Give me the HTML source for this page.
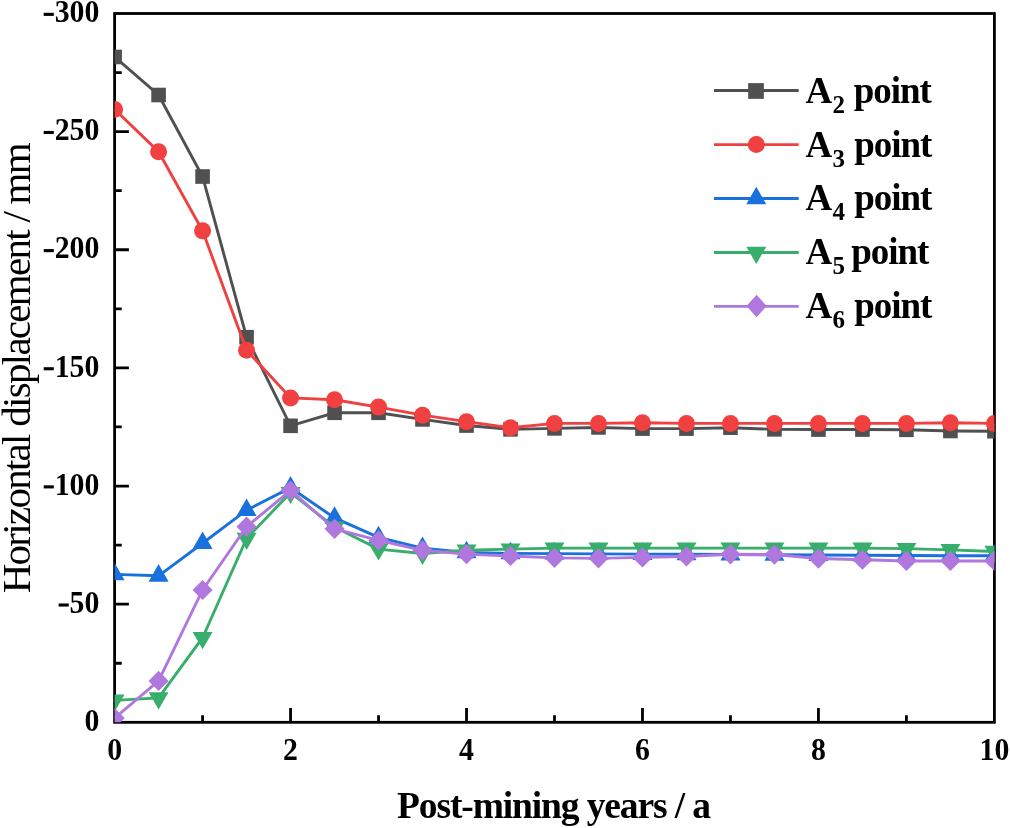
<!DOCTYPE html><html><head><meta charset="utf-8"><style>html,body{margin:0;padding:0;background:#fff;}body{width:1010px;height:828px;overflow:hidden;position:relative;}svg{position:absolute;left:0;top:0;will-change:transform;}text{font-family:"Liberation Serif",serif;}</style></head><body>
<svg width="1010" height="828" viewBox="0 0 1010 828">
<defs><clipPath id="pc"><rect x="114.60" y="13.50" width="879.80" height="708.80"/></clipPath></defs>
<path d="M202.58,722.30V715.20 M290.56,722.30V708.00 M378.54,722.30V715.20 M466.52,722.30V708.00 M554.50,722.30V715.20 M642.48,722.30V708.00 M730.46,722.30V715.20 M818.44,722.30V708.00 M906.42,722.30V715.20 M114.60,663.23H121.70 M114.60,604.17H128.90 M114.60,545.10H121.70 M114.60,486.03H128.90 M114.60,426.97H121.70 M114.60,367.90H128.90 M114.60,308.83H121.70 M114.60,249.77H128.90 M114.60,190.70H121.70 M114.60,131.63H128.90 M114.60,72.57H121.70" stroke="#000" stroke-width="2.8" fill="none"/>
<rect x="114.60" y="13.50" width="879.80" height="708.80" fill="none" stroke="#000" stroke-width="2.8"/>
<g clip-path="url(#pc)">
<polyline points="114.60,56.97 158.59,95.01 202.58,176.52 246.57,337.19 290.56,425.79 334.55,412.79 378.54,412.79 422.53,419.41 466.52,425.55 510.51,429.33 554.50,428.38 598.49,427.44 642.48,428.62 686.47,428.62 730.46,427.68 774.45,429.33 818.44,429.57 862.43,429.57 906.42,429.80 950.41,430.98 994.40,431.22" fill="none" stroke="#505050" stroke-width="2.9" stroke-linejoin="miter"/>
<rect x="107.30" y="49.67" width="14.60" height="14.60" fill="#505050"/>
<rect x="151.29" y="87.71" width="14.60" height="14.60" fill="#505050"/>
<rect x="195.28" y="169.22" width="14.60" height="14.60" fill="#505050"/>
<rect x="239.27" y="329.89" width="14.60" height="14.60" fill="#505050"/>
<rect x="283.26" y="418.49" width="14.60" height="14.60" fill="#505050"/>
<rect x="327.25" y="405.49" width="14.60" height="14.60" fill="#505050"/>
<rect x="371.24" y="405.49" width="14.60" height="14.60" fill="#505050"/>
<rect x="415.23" y="412.11" width="14.60" height="14.60" fill="#505050"/>
<rect x="459.22" y="418.25" width="14.60" height="14.60" fill="#505050"/>
<rect x="503.21" y="422.03" width="14.60" height="14.60" fill="#505050"/>
<rect x="547.20" y="421.08" width="14.60" height="14.60" fill="#505050"/>
<rect x="591.19" y="420.14" width="14.60" height="14.60" fill="#505050"/>
<rect x="635.18" y="421.32" width="14.60" height="14.60" fill="#505050"/>
<rect x="679.17" y="421.32" width="14.60" height="14.60" fill="#505050"/>
<rect x="723.16" y="420.38" width="14.60" height="14.60" fill="#505050"/>
<rect x="767.15" y="422.03" width="14.60" height="14.60" fill="#505050"/>
<rect x="811.14" y="422.27" width="14.60" height="14.60" fill="#505050"/>
<rect x="855.13" y="422.27" width="14.60" height="14.60" fill="#505050"/>
<rect x="899.12" y="422.50" width="14.60" height="14.60" fill="#505050"/>
<rect x="943.11" y="423.68" width="14.60" height="14.60" fill="#505050"/>
<rect x="987.10" y="423.92" width="14.60" height="14.60" fill="#505050"/>
<polyline points="114.60,109.42 158.59,151.72 202.58,230.87 246.57,350.18 290.56,397.91 334.55,399.80 378.54,407.12 422.53,415.15 466.52,421.65 510.51,427.79 554.50,423.42 598.49,423.42 642.48,422.71 686.47,423.42 730.46,423.42 774.45,423.42 818.44,423.42 862.43,423.42 906.42,423.42 950.41,422.71 994.40,423.42" fill="none" stroke="#f04040" stroke-width="2.9" stroke-linejoin="miter"/>
<circle cx="114.60" cy="109.42" r="8.50" fill="#f04040"/>
<circle cx="158.59" cy="151.72" r="8.50" fill="#f04040"/>
<circle cx="202.58" cy="230.87" r="8.50" fill="#f04040"/>
<circle cx="246.57" cy="350.18" r="8.50" fill="#f04040"/>
<circle cx="290.56" cy="397.91" r="8.50" fill="#f04040"/>
<circle cx="334.55" cy="399.80" r="8.50" fill="#f04040"/>
<circle cx="378.54" cy="407.12" r="8.50" fill="#f04040"/>
<circle cx="422.53" cy="415.15" r="8.50" fill="#f04040"/>
<circle cx="466.52" cy="421.65" r="8.50" fill="#f04040"/>
<circle cx="510.51" cy="427.79" r="8.50" fill="#f04040"/>
<circle cx="554.50" cy="423.42" r="8.50" fill="#f04040"/>
<circle cx="598.49" cy="423.42" r="8.50" fill="#f04040"/>
<circle cx="642.48" cy="422.71" r="8.50" fill="#f04040"/>
<circle cx="686.47" cy="423.42" r="8.50" fill="#f04040"/>
<circle cx="730.46" cy="423.42" r="8.50" fill="#f04040"/>
<circle cx="774.45" cy="423.42" r="8.50" fill="#f04040"/>
<circle cx="818.44" cy="423.42" r="8.50" fill="#f04040"/>
<circle cx="862.43" cy="423.42" r="8.50" fill="#f04040"/>
<circle cx="906.42" cy="423.42" r="8.50" fill="#f04040"/>
<circle cx="950.41" cy="422.71" r="8.50" fill="#f04040"/>
<circle cx="994.40" cy="423.42" r="8.50" fill="#f04040"/>
<polyline points="114.60,574.40 158.59,575.81 202.58,543.21 246.57,510.13 290.56,487.69 334.55,517.93 378.54,537.42 422.53,548.17 466.52,552.42 510.51,553.37 554.50,553.61 598.49,553.84 642.48,554.08 686.47,554.31 730.46,554.55 774.45,554.79 818.44,555.02 862.43,555.26 906.42,555.50 950.41,555.73 994.40,555.73" fill="none" stroke="#1971de" stroke-width="2.9" stroke-linejoin="miter"/>
<path d="M114.60,562.66 L124.60,580.26 L104.60,580.26 Z" fill="#1971de"/>
<path d="M158.59,564.08 L168.59,581.68 L148.59,581.68 Z" fill="#1971de"/>
<path d="M202.58,531.48 L212.58,549.08 L192.58,549.08 Z" fill="#1971de"/>
<path d="M246.57,498.40 L256.57,516.00 L236.57,516.00 Z" fill="#1971de"/>
<path d="M290.56,475.95 L300.56,493.55 L280.56,493.55 Z" fill="#1971de"/>
<path d="M334.55,506.20 L344.55,523.80 L324.55,523.80 Z" fill="#1971de"/>
<path d="M378.54,525.69 L388.54,543.29 L368.54,543.29 Z" fill="#1971de"/>
<path d="M422.53,536.44 L432.53,554.04 L412.53,554.04 Z" fill="#1971de"/>
<path d="M466.52,540.69 L476.52,558.29 L456.52,558.29 Z" fill="#1971de"/>
<path d="M510.51,541.64 L520.51,559.24 L500.51,559.24 Z" fill="#1971de"/>
<path d="M554.50,541.87 L564.50,559.47 L544.50,559.47 Z" fill="#1971de"/>
<path d="M598.49,542.11 L608.49,559.71 L588.49,559.71 Z" fill="#1971de"/>
<path d="M642.48,542.34 L652.48,559.94 L632.48,559.94 Z" fill="#1971de"/>
<path d="M686.47,542.58 L696.47,560.18 L676.47,560.18 Z" fill="#1971de"/>
<path d="M730.46,542.82 L740.46,560.42 L720.46,560.42 Z" fill="#1971de"/>
<path d="M774.45,543.05 L784.45,560.65 L764.45,560.65 Z" fill="#1971de"/>
<path d="M818.44,543.29 L828.44,560.89 L808.44,560.89 Z" fill="#1971de"/>
<path d="M862.43,543.53 L872.43,561.13 L852.43,561.13 Z" fill="#1971de"/>
<path d="M906.42,543.76 L916.42,561.36 L896.42,561.36 Z" fill="#1971de"/>
<path d="M950.41,544.00 L960.41,561.60 L940.41,561.60 Z" fill="#1971de"/>
<path d="M994.40,544.00 L1004.40,561.60 L984.40,561.60 Z" fill="#1971de"/>
<polyline points="114.60,700.33 158.59,697.96 202.58,637.72 246.57,538.48 290.56,492.65 334.55,527.14 378.54,549.12 422.53,553.49 466.52,550.30 510.51,549.12 554.50,548.17 598.49,548.17 642.48,548.17 686.47,548.17 730.46,548.17 774.45,548.17 818.44,548.17 862.43,548.17 906.42,548.64 950.41,549.83 994.40,551.48" fill="none" stroke="#37ae6b" stroke-width="2.9" stroke-linejoin="miter"/>
<path d="M114.60,711.79 L124.60,694.59 L104.60,694.59 Z" fill="#37ae6b"/>
<path d="M158.59,709.43 L168.59,692.23 L148.59,692.23 Z" fill="#37ae6b"/>
<path d="M202.58,649.18 L212.58,631.98 L192.58,631.98 Z" fill="#37ae6b"/>
<path d="M246.57,549.95 L256.57,532.75 L236.57,532.75 Z" fill="#37ae6b"/>
<path d="M290.56,504.12 L300.56,486.92 L280.56,486.92 Z" fill="#37ae6b"/>
<path d="M334.55,538.61 L344.55,521.41 L324.55,521.41 Z" fill="#37ae6b"/>
<path d="M378.54,560.58 L388.54,543.38 L368.54,543.38 Z" fill="#37ae6b"/>
<path d="M422.53,564.95 L432.53,547.75 L412.53,547.75 Z" fill="#37ae6b"/>
<path d="M466.52,561.76 L476.52,544.56 L456.52,544.56 Z" fill="#37ae6b"/>
<path d="M510.51,560.58 L520.51,543.38 L500.51,543.38 Z" fill="#37ae6b"/>
<path d="M554.50,559.64 L564.50,542.44 L544.50,542.44 Z" fill="#37ae6b"/>
<path d="M598.49,559.64 L608.49,542.44 L588.49,542.44 Z" fill="#37ae6b"/>
<path d="M642.48,559.64 L652.48,542.44 L632.48,542.44 Z" fill="#37ae6b"/>
<path d="M686.47,559.64 L696.47,542.44 L676.47,542.44 Z" fill="#37ae6b"/>
<path d="M730.46,559.64 L740.46,542.44 L720.46,542.44 Z" fill="#37ae6b"/>
<path d="M774.45,559.64 L784.45,542.44 L764.45,542.44 Z" fill="#37ae6b"/>
<path d="M818.44,559.64 L828.44,542.44 L808.44,542.44 Z" fill="#37ae6b"/>
<path d="M862.43,559.64 L872.43,542.44 L852.43,542.44 Z" fill="#37ae6b"/>
<path d="M906.42,560.11 L916.42,542.91 L896.42,542.91 Z" fill="#37ae6b"/>
<path d="M950.41,561.29 L960.41,544.09 L940.41,544.09 Z" fill="#37ae6b"/>
<path d="M994.40,562.95 L1004.40,545.75 L984.40,545.75 Z" fill="#37ae6b"/>
<polyline points="114.60,718.05 158.59,680.95 202.58,589.99 246.57,526.67 290.56,490.52 334.55,528.80 378.54,540.37 422.53,550.30 466.52,554.08 510.51,555.97 554.50,557.86 598.49,558.33 642.48,557.39 686.47,556.44 730.46,554.31 774.45,554.55 818.44,558.57 862.43,559.75 906.42,560.93 950.41,560.93 994.40,560.93" fill="none" stroke="#b077de" stroke-width="2.9" stroke-linejoin="miter"/>
<path d="M114.60,707.95 L124.70,718.05 L114.60,728.15 L104.50,718.05 Z" fill="#b077de"/>
<path d="M158.59,670.85 L168.69,680.95 L158.59,691.05 L148.49,680.95 Z" fill="#b077de"/>
<path d="M202.58,579.89 L212.68,589.99 L202.58,600.09 L192.48,589.99 Z" fill="#b077de"/>
<path d="M246.57,516.57 L256.67,526.67 L246.57,536.77 L236.47,526.67 Z" fill="#b077de"/>
<path d="M290.56,480.42 L300.66,490.52 L290.56,500.62 L280.46,490.52 Z" fill="#b077de"/>
<path d="M334.55,518.70 L344.65,528.80 L334.55,538.90 L324.45,528.80 Z" fill="#b077de"/>
<path d="M378.54,530.27 L388.64,540.37 L378.54,550.47 L368.44,540.37 Z" fill="#b077de"/>
<path d="M422.53,540.20 L432.63,550.30 L422.53,560.40 L412.43,550.30 Z" fill="#b077de"/>
<path d="M466.52,543.98 L476.62,554.08 L466.52,564.18 L456.42,554.08 Z" fill="#b077de"/>
<path d="M510.51,545.87 L520.61,555.97 L510.51,566.07 L500.41,555.97 Z" fill="#b077de"/>
<path d="M554.50,547.76 L564.60,557.86 L554.50,567.96 L544.40,557.86 Z" fill="#b077de"/>
<path d="M598.49,548.23 L608.59,558.33 L598.49,568.43 L588.39,558.33 Z" fill="#b077de"/>
<path d="M642.48,547.29 L652.58,557.39 L642.48,567.49 L632.38,557.39 Z" fill="#b077de"/>
<path d="M686.47,546.34 L696.57,556.44 L686.47,566.54 L676.37,556.44 Z" fill="#b077de"/>
<path d="M730.46,544.21 L740.56,554.31 L730.46,564.41 L720.36,554.31 Z" fill="#b077de"/>
<path d="M774.45,544.45 L784.55,554.55 L774.45,564.65 L764.35,554.55 Z" fill="#b077de"/>
<path d="M818.44,548.47 L828.54,558.57 L818.44,568.67 L808.34,558.57 Z" fill="#b077de"/>
<path d="M862.43,549.65 L872.53,559.75 L862.43,569.85 L852.33,559.75 Z" fill="#b077de"/>
<path d="M906.42,550.83 L916.52,560.93 L906.42,571.03 L896.32,560.93 Z" fill="#b077de"/>
<path d="M950.41,550.83 L960.51,560.93 L950.41,571.03 L940.31,560.93 Z" fill="#b077de"/>
<path d="M994.40,550.83 L1004.50,560.93 L994.40,571.03 L984.30,560.93 Z" fill="#b077de"/>
</g>
<text transform="translate(114.60,759.6) scale(1,1.058)" font-size="29.8" font-weight="bold" text-anchor="middle">0</text>
<text transform="translate(290.56,759.6) scale(1,1.058)" font-size="29.8" font-weight="bold" text-anchor="middle">2</text>
<text transform="translate(466.52,759.6) scale(1,1.058)" font-size="29.8" font-weight="bold" text-anchor="middle">4</text>
<text transform="translate(642.48,759.6) scale(1,1.058)" font-size="29.8" font-weight="bold" text-anchor="middle">6</text>
<text transform="translate(818.44,759.6) scale(1,1.058)" font-size="29.8" font-weight="bold" text-anchor="middle">8</text>
<text transform="translate(994.40,759.6) scale(1,1.058)" font-size="29.8" font-weight="bold" text-anchor="middle">10</text>
<text transform="translate(99.3,730.90) scale(1,1.058)" font-size="29.8" font-weight="bold" text-anchor="end">0</text>
<text transform="translate(99.3,612.77) scale(1,1.058)" font-size="29.8" font-weight="bold" text-anchor="end">50</text>
<rect x="58.60" y="603.47" width="10.1" height="3.1" fill="#000"/>
<text transform="translate(99.3,494.63) scale(1,1.058)" font-size="29.8" font-weight="bold" text-anchor="end">100</text>
<rect x="43.70" y="485.33" width="10.1" height="3.1" fill="#000"/>
<text transform="translate(99.3,376.50) scale(1,1.058)" font-size="29.8" font-weight="bold" text-anchor="end">150</text>
<rect x="43.70" y="367.20" width="10.1" height="3.1" fill="#000"/>
<text transform="translate(99.3,258.37) scale(1,1.058)" font-size="29.8" font-weight="bold" text-anchor="end">200</text>
<rect x="43.70" y="249.07" width="10.1" height="3.1" fill="#000"/>
<text transform="translate(99.3,140.23) scale(1,1.058)" font-size="29.8" font-weight="bold" text-anchor="end">250</text>
<rect x="43.70" y="130.93" width="10.1" height="3.1" fill="#000"/>
<text transform="translate(99.3,22.10) scale(1,1.058)" font-size="29.8" font-weight="bold" text-anchor="end">300</text>
<rect x="43.70" y="12.80" width="10.1" height="3.1" fill="#000"/>
<text x="397" y="818" font-size="37.5" font-weight="bold" textLength="314">Post-mining years / a</text>
<text transform="translate(30.1,593.3) rotate(-90)" x="0" y="0" font-size="41" textLength="451">Horizontal displacement / mm</text>
<line x1="714" y1="90.5" x2="798.7" y2="90.5" stroke="#505050" stroke-width="2.9"/>
<rect x="748.15" y="83.15" width="15.70" height="15.70" fill="#505050"/>
<text x="805.5" y="102.7" font-size="37" font-weight="bold">A</text>
<text x="832.5" y="112.7" font-size="25" font-weight="bold">2</text>
<text x="853.8" y="102.7" font-size="37" font-weight="bold" textLength="78">point</text>
<line x1="714" y1="144.6" x2="798.7" y2="144.6" stroke="#f04040" stroke-width="2.9"/>
<circle cx="756.30" cy="144.60" r="8.50" fill="#f04040"/>
<text x="805.5" y="156.7" font-size="37" font-weight="bold">A</text>
<text x="832.5" y="166.7" font-size="25" font-weight="bold">3</text>
<text x="854.3" y="156.7" font-size="37" font-weight="bold" textLength="78">point</text>
<line x1="714" y1="198.5" x2="798.7" y2="198.5" stroke="#1971de" stroke-width="2.9"/>
<path d="M756.30,186.77 L766.30,204.37 L746.30,204.37 Z" fill="#1971de"/>
<text x="805.5" y="209.8" font-size="37" font-weight="bold">A</text>
<text x="832.5" y="219.8" font-size="25" font-weight="bold">4</text>
<text x="854.3" y="209.8" font-size="37" font-weight="bold" textLength="78">point</text>
<line x1="714" y1="252.5" x2="798.7" y2="252.5" stroke="#37ae6b" stroke-width="2.9"/>
<path d="M756.30,263.97 L766.30,246.77 L746.30,246.77 Z" fill="#37ae6b"/>
<text x="805.5" y="263.7" font-size="37" font-weight="bold">A</text>
<text x="832.5" y="273.7" font-size="25" font-weight="bold">5</text>
<text x="851.3" y="263.7" font-size="37" font-weight="bold" textLength="78">point</text>
<line x1="714" y1="306.4" x2="798.7" y2="306.4" stroke="#b077de" stroke-width="2.9"/>
<path d="M756.60,294.85 L766.70,306.10 L756.60,317.35 L746.50,306.10 Z" fill="#b077de"/>
<text x="805.5" y="317.7" font-size="37" font-weight="bold">A</text>
<text x="832.5" y="327.7" font-size="25" font-weight="bold">6</text>
<text x="854.3" y="317.7" font-size="37" font-weight="bold" textLength="78">point</text>
</svg></body></html>
